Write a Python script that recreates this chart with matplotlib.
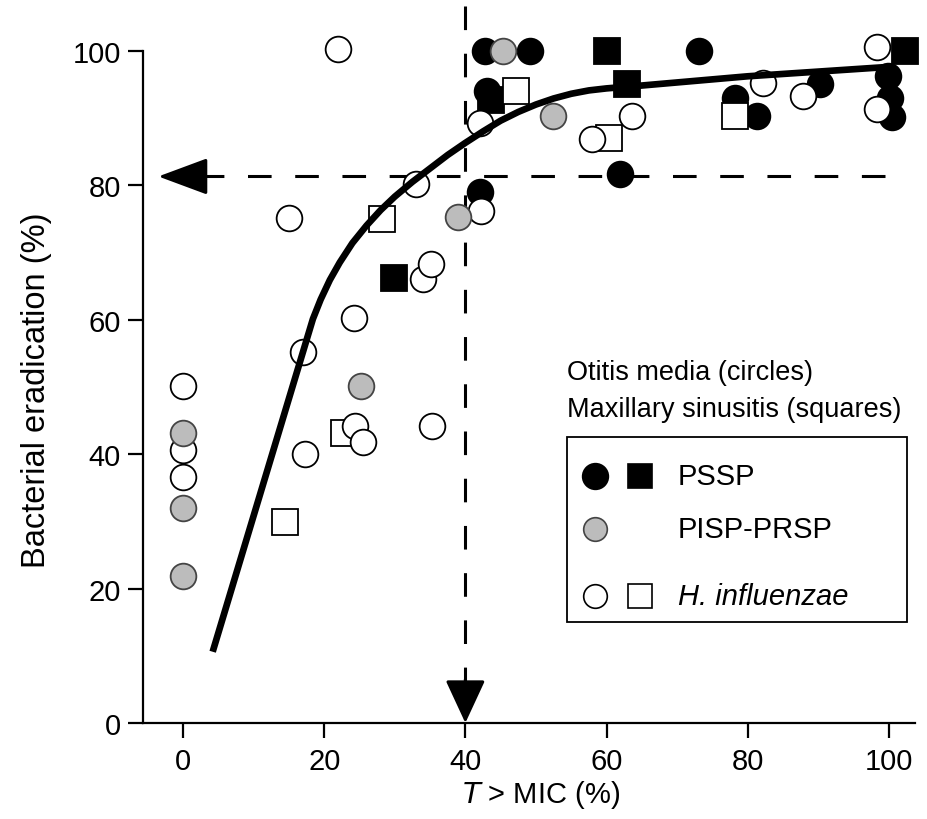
import matplotlib
matplotlib.use("Agg")
import matplotlib.pyplot as plt
from matplotlib.patches import Rectangle

plt.rcParams['font.family'] = ['Liberation Sans', 'DejaVu Sans']
plt.rcParams['lines.scale_dashes'] = False

# ---------------- data ----------------
# PSSP (black) - otitis media (circles)
pssp_circ_x = [42.1, 42.8, 49.2, 43.0, 61.9, 73.1, 78.2, 81.3, 90.2, 99.9, 100.1, 100.4]
pssp_circ_y = [79.0, 100.0, 100.0, 94.0, 81.7, 100.0, 92.9, 90.3, 95.1, 96.3, 92.9, 90.2]
# PSSP (black) - maxillary sinusitis (squares)
pssp_sq_x = [29.9, 43.7, 60.1, 62.9, 102.3]
pssp_sq_y = [66.2, 92.6, 100.0, 95.1, 100.0]
# PISP-PRSP (grey) - circles
pisp_x = [0.0, 0.0, 0.0, 25.2, 39.0, 45.4, 52.4]
pisp_y = [43.2, 32.0, 21.9, 50.1, 75.3, 100.0, 90.3]
# H. influenzae (open) - circles
hi_circ_x = [0.0, 0.0, 0.0, 15.0, 17.0, 17.3, 22.0, 24.2, 24.4, 25.5, 33.0, 34.0,
             35.1, 35.3, 42.1, 42.2, 57.9, 63.6, 82.1, 87.8, 98.3, 98.3]
hi_circ_y = [50.1, 40.6, 36.6, 75.1, 55.2, 40.0, 100.3, 60.3, 44.2, 41.8, 80.2, 66.1,
             68.3, 44.2, 89.3, 76.1, 86.9, 90.3, 95.2, 93.3, 100.6, 91.4]
# H. influenzae (open) - squares
hi_sq_x = [14.4, 22.8, 28.2, 47.2, 60.4, 78.2]
hi_sq_y = [29.9, 43.2, 75.0, 94.0, 87.0, 90.3]

# fitted curve
fit_x = [4.2, 18.4, 19.5, 20.8, 22.2, 24.0, 26.0, 28.0, 30.0, 32.5, 35.0, 37.5, 40.0,
         42.5, 45.0, 47.5, 50.0, 52.5, 55.0, 57.5, 60.0, 64.7, 80.0, 100.0]
fit_y = [10.6, 60.1, 63.0, 65.9, 68.5, 71.4, 74.0, 76.3, 78.3, 80.5, 82.5, 84.5, 86.3,
         88.0, 89.6, 90.9, 92.0, 92.9, 93.6, 94.1, 94.4, 94.8, 96.2, 97.6]

# threshold (dashed lines)
thr_x = 40.0
thr_y = 81.3

xticks = [0, 20, 40, 60, 80, 100]
yticks = [0, 20, 40, 60, 80, 100]

# ---------------- figure ----------------
W, H = 927, 820
fig = plt.figure(figsize=(W / 100, H / 100), dpi=100)
ax_l, ax_r, ax_t, ax_b = 143, 915, 2, 724
ax = fig.add_axes([ax_l / W, (H - ax_b) / H, (ax_r - ax_l) / W, (ax_b - ax_t) / H])
ax.set_xlim(-5.67, 103.7)
ax.set_ylim(0, 107.4)

for s in ['top', 'right']:
    ax.spines[s].set_visible(False)
ax.spines['left'].set_bounds(0, 100)
ax.spines['left'].set_linewidth(1.6)
ax.spines['bottom'].set_linewidth(1.6)
ax.set_xticks(xticks)
ax.set_yticks(yticks)
ax.tick_params(direction='out', length=11, width=1.6, labelsize=21, pad=5)
ax.tick_params(axis='x', pad=6)

# dashed reference lines
dash = (17, 17)
ax.plot([thr_x, thr_x], [106.7, 6.0], color='black', lw=2.2, dashes=dash, zorder=1)
ax.plot([99.4, -0.5], [thr_y, thr_y], color='black', lw=2.2, dashes=dash, zorder=1)
ax.annotate('', xy=(thr_x, 0), xytext=(thr_x, 6.5),
            arrowprops=dict(arrowstyle='-|>,head_length=27,head_width=12.5',
                            mutation_scale=1, lw=2.2, color='black',
                            shrinkA=0, shrinkB=0), zorder=2)
ax.annotate('', xy=(-3.5, thr_y), xytext=(2.5, thr_y),
            arrowprops=dict(arrowstyle='-|>,head_length=31,head_width=11.5',
                            mutation_scale=1, lw=2.2, color='black',
                            shrinkA=0, shrinkB=0), zorder=2)

ms_c = 18.5
ms_s = 19.0
mew = 1.3
grey_face = '#bcbcbc'
grey_edge = '#444444'

ax.plot(pssp_sq_x, pssp_sq_y, ls='none', marker='s', ms=ms_s, mfc='black', mec='black', mew=mew, zorder=3, clip_on=False)
ax.plot(pssp_circ_x, pssp_circ_y, ls='none', marker='o', ms=ms_c, mfc='black', mec='black', mew=mew, zorder=4, clip_on=False)
ax.plot(hi_sq_x, hi_sq_y, ls='none', marker='s', ms=ms_s, mfc='white', mec='black', mew=mew, zorder=5, clip_on=False)
ax.plot(hi_circ_x, hi_circ_y, ls='none', marker='o', ms=ms_c, mfc='white', mec='black', mew=mew, zorder=6, clip_on=False)
ax.plot(pisp_x, pisp_y, ls='none', marker='o', ms=ms_c, mfc=grey_face, mec=grey_edge, mew=mew, zorder=7, clip_on=False)

# fitted curve
ax.plot(fit_x, fit_y, color='black', lw=4.8, solid_capstyle='butt', solid_joinstyle='round', zorder=8)

# ---------------- legend (manual) ----------------
def fx(px):
    return (px - ax_l) / (ax_r - ax_l)

def fy(py):
    return (ax_b - py) / (ax_b - ax_t)

ax.text(fx(567), fy(373), 'Otitis media (circles)', transform=ax.transAxes,
        fontsize=19.5, va='center', ha='left')
ax.text(fx(567), fy(410), 'Maxillary sinusitis (squares)', transform=ax.transAxes,
        fontsize=19.5, va='center', ha='left')
box = Rectangle((fx(567), fy(623)), fx(907) - fx(567), fy(438) - fy(623),
                transform=ax.transAxes, fill=True, facecolor='white',
                edgecolor='black', lw=1.3, zorder=9)
ax.add_patch(box)

rows = [fy(477), fy(530), fy(597)]
cx, sx, tx = fx(595), fx(640), fx(678)
lms = 17
kw = dict(transform=ax.transAxes, ls='none', zorder=10, clip_on=False, mew=1.2)
ax.plot([cx], [rows[0]], marker='o', ms=lms + 1.5, mfc='black', mec='black', **kw)
ax.plot([sx], [rows[0]], marker='s', ms=lms + 0.5, mfc='black', mec='black', **kw)
ax.plot([cx], [rows[1]], marker='o', ms=lms, mfc=grey_face, mec=grey_edge, **kw)
ax.plot([cx], [rows[2]], marker='o', ms=lms, mfc='white', mec='black', **kw)
ax.plot([sx], [rows[2]], marker='s', ms=lms, mfc='white', mec='black', **kw)
ax.text(tx, rows[0], 'PSSP', transform=ax.transAxes, fontsize=21, va='center', ha='left', zorder=10)
ax.text(tx, rows[1], 'PISP-PRSP', transform=ax.transAxes, fontsize=21, va='center', ha='left', zorder=10)
ax.text(tx, rows[2], 'H. influenzae', transform=ax.transAxes, fontsize=21, va='center', ha='left',
        style='italic', zorder=10)

# axis labels
fig.text(37 / W, 1 - 390 / H, 'Bacterial eradication (%)', rotation=90,
         fontsize=23.5, va='center', ha='center')
fig.text(541 / W, 1 - 795 / H, r'$\it{T}$' + ' > MIC (%)', fontsize=21,
         va='center', ha='center')

fig.savefig('out.png', dpi=100)
